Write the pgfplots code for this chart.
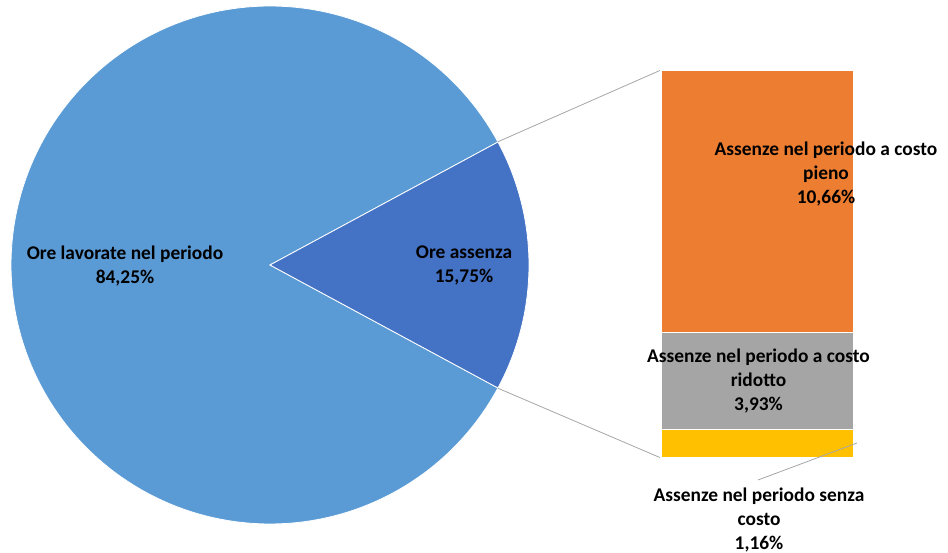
\documentclass[border=0pt]{standalone}
\usepackage{pgfplots}
\pgfplotsset{compat=1.18}
\usepackage{fontspec}
\setmainfont{Carlito}
\definecolor{cLight}{HTML}{5B9BD5}
\definecolor{cDark}{HTML}{4472C4}
\definecolor{cOrange}{HTML}{ED7D31}
\definecolor{cGray}{HTML}{A5A5A5}
\definecolor{cYellow}{HTML}{FFC000}
\definecolor{cLine}{HTML}{A6A6A6}
% pie shares (percent)
\def\pLav{84.25}
\def\pAss{15.75}
\tikzset{lab/.style={font=\fontsize{19.4}{24}\selectfont\bfseries, align=center, text=black, inner sep=0pt}}
\begin{document}
\begin{tikzpicture}
\begin{axis}[
  at={(0,0)}, anchor=south west,
  width=948pt, height=553pt, scale only axis,
  xmin=0, xmax=948, ymin=0, ymax=553,
  hide axis, clip=false,
]
% big slice (Ore lavorate) and small slice (Ore assenza), centre (270,288), radius 259
\pgfmathsetmacro{\half}{\pAss*3.6/2}
\addplot[fill=cLight, draw=white, line width=0.8pt, domain={\half}:{360-\half}, samples=180]
  ({270+259*cos(x)},{288+259*sin(x)}) -- (axis cs:270,288) -- cycle;
\addplot[fill=cDark, draw=white, line width=0.8pt, domain={-\half}:{\half}, samples=60]
  ({270+259*cos(x)},{288+259*sin(x)}) -- (axis cs:270,288) -- cycle;
% connector lines
\addplot[cLine, line width=0.8pt] coordinates {(497.6,411.1) (661,483)};
\addplot[cLine, line width=0.8pt] coordinates {(497.6,164.9) (661,95)};
\end{axis}
\begin{axis}[
  at={(661pt,95pt)}, anchor=south west,
  width=193pt, height=388pt, scale only axis,
  xmin=0, xmax=1, ymin=0, ymax=15.75,
  hide axis, clip=false,
  ybar stacked, bar width=1, bar shift=0pt,
]
\addplot[fill=cYellow, draw=white, line width=1.5pt] coordinates {(0.5,1.16)};
\addplot[fill=cGray, draw=white, line width=1.5pt] coordinates {(0.5,3.93)};
\addplot[fill=cOrange, draw=white, line width=1.5pt] coordinates {(0.5,10.66)};
\end{axis}
\begin{axis}[
  at={(0,0)}, anchor=south west,
  width=948pt, height=553pt, scale only axis,
  xmin=0, xmax=948, ymin=0, ymax=553,
  hide axis, clip=false,
]
\addplot[cLine, line width=0.8pt] coordinates {(857,110) (758,73)};
\node[lab] at (axis cs:125,286.5) {Ore lavorate nel periodo\\84,25\%};
\node[lab] at (axis cs:464,287.5) {Ore assenza\\15,75\%};
\node[lab] at (axis cs:826,379) {Assenze nel periodo a costo\\pieno\\10,66\%};
\node[lab] at (axis cs:758.5,172) {Assenze nel periodo a costo\\ridotto\\3,93\%};
\node[lab] at (axis cs:759,33) {Assenze nel periodo senza\\costo\\1,16\%};
\end{axis}
\pgfresetboundingbox
\path[use as bounding box] (0,0) rectangle (948pt,553pt);
\end{tikzpicture}
\end{document}
